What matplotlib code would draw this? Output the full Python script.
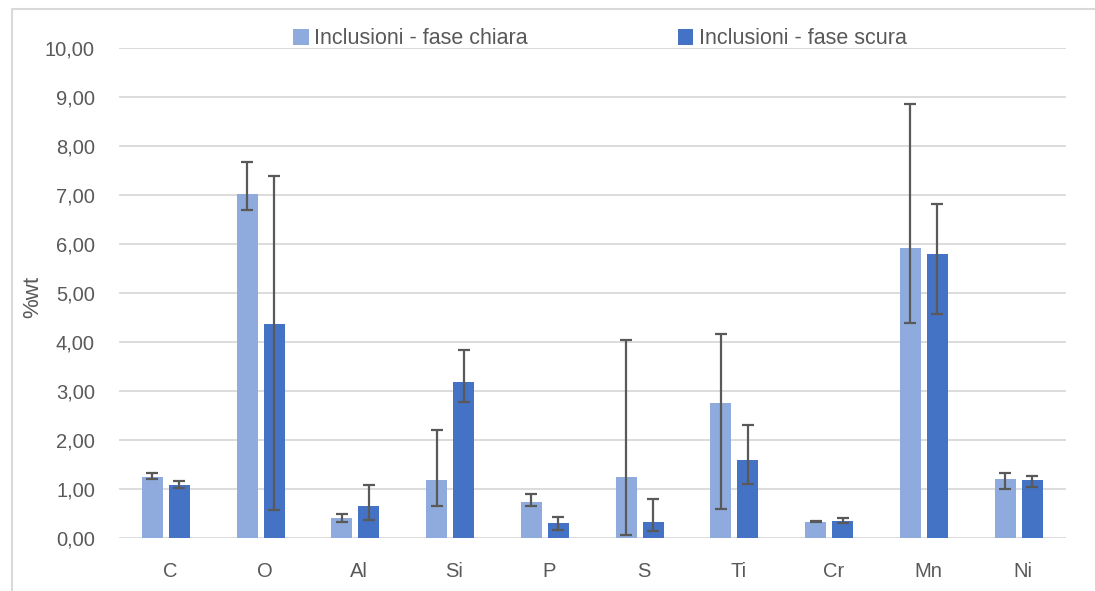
import matplotlib
matplotlib.use("Agg")
import matplotlib.pyplot as plt
from matplotlib.lines import Line2D
from matplotlib.ticker import FuncFormatter
from matplotlib.transforms import ScaledTranslation
import numpy as np

plt.rcParams['font.family'] = ['Liberation Sans', 'DejaVu Sans']

elements = ["C", "O", "Al", "Si", "P", "S", "Ti", "Cr", "Mn", "Ni"]
series_names = ["Inclusioni - fase chiara", "Inclusioni - fase scura"]

# mean values (%wt)
chiara = [1.25, 7.03, 0.41, 1.18, 0.74, 1.25, 2.76, 0.33, 5.91, 1.20]
scura = [1.08, 4.37, 0.65, 3.19, 0.30, 0.33, 1.59, 0.35, 5.80, 1.18]

# error bar limits (upper / lower)
chiara_hi = [1.33, 7.68, 0.50, 2.20, 0.90, 4.05, 4.17, 0.35, 8.86, 1.32]
chiara_lo = [1.20, 6.70, 0.33, 0.65, 0.65, 0.06, 0.59, 0.32, 4.39, 1.01]
scura_hi = [1.16, 7.39, 1.08, 3.84, 0.42, 0.80, 2.31, 0.40, 6.82, 1.27]
scura_lo = [1.03, 0.57, 0.37, 2.77, 0.16, 0.15, 1.10, 0.31, 4.58, 1.04]

color_light = "#8FAADC"
color_dark = "#4472C4"
grid_color = "#D9D9D9"
text_color = "#595959"
err_color = "#595959"

W, H = 1095, 591
fig = plt.figure(figsize=(W / 100, H / 100), dpi=100)
ax = fig.add_axes([118.5 / W, 1 - 538 / H, (1066 - 118.5) / W, (538 - 48) / H])

x = np.arange(len(elements))
bw = 0.222
off = 0.142

for vals, hi, lo, col, sign, name in [
    (chiara, chiara_hi, chiara_lo, color_light, -1, series_names[0]),
    (scura, scura_hi, scura_lo, color_dark, 1, series_names[1]),
]:
    vals = np.array(vals)
    yerr = np.vstack([vals - np.array(lo), np.array(hi) - vals])
    ax.bar(x + sign * off, vals, width=bw, color=col, label=name, zorder=2)
    ax.errorbar(x + sign * off, vals, yerr=yerr, fmt="none", ecolor=err_color,
                elinewidth=1.6, capsize=4.5, capthick=1.6, zorder=3)

ax.set_xlim(-0.5, len(elements) - 0.5)
ax.set_ylim(0, 10)
ax.set_yticks(np.arange(0, 11, 1))
ax.yaxis.set_major_formatter(FuncFormatter(lambda v, p: f"{v:.2f}".replace(".", ",")))
ax.set_xticks(x)
ax.set_xticklabels(elements)
ax.grid(axis="y", color=grid_color, linewidth=1.3, zorder=0)
ax.set_axisbelow(True)
for s in ax.spines.values():
    s.set_visible(False)
ax.tick_params(axis="both", length=0, colors=text_color, labelsize=14.5)
ax.tick_params(axis="y", pad=17)
ax.tick_params(axis="x", pad=17)

# category labels sit a little right of the bar-pair centre
shift = ScaledTranslation(4 / 100, 0, fig.dpi_scale_trans)
for lab in ax.get_xticklabels():
    lab.set_transform(lab.get_transform() + shift)

ax.set_ylabel("%wt", color=text_color, fontsize=16)
ax.yaxis.set_label_coords((43 - 118.5) / (1066 - 118.5), (538 - 297) / 490)

leg = ax.legend(ncol=2, loc="center", bbox_to_anchor=((600 - 118.5) / 947.5, 1 + 9 / 490),
                frameon=False, fontsize=15.5, handlelength=0.7, handleheight=0.7,
                handletextpad=0.25, columnspacing=7.0, labelcolor=text_color,
                borderpad=0, borderaxespad=0)

# outer chart frame (top and left edges)
fig.add_artist(Line2D([12 / W, 12 / W, 1.0], [0.0, 1 - 9 / H, 1 - 9 / H],
                      transform=fig.transFigure, color=grid_color, linewidth=1.5))

fig.savefig("out.png", dpi=100, facecolor="white")
